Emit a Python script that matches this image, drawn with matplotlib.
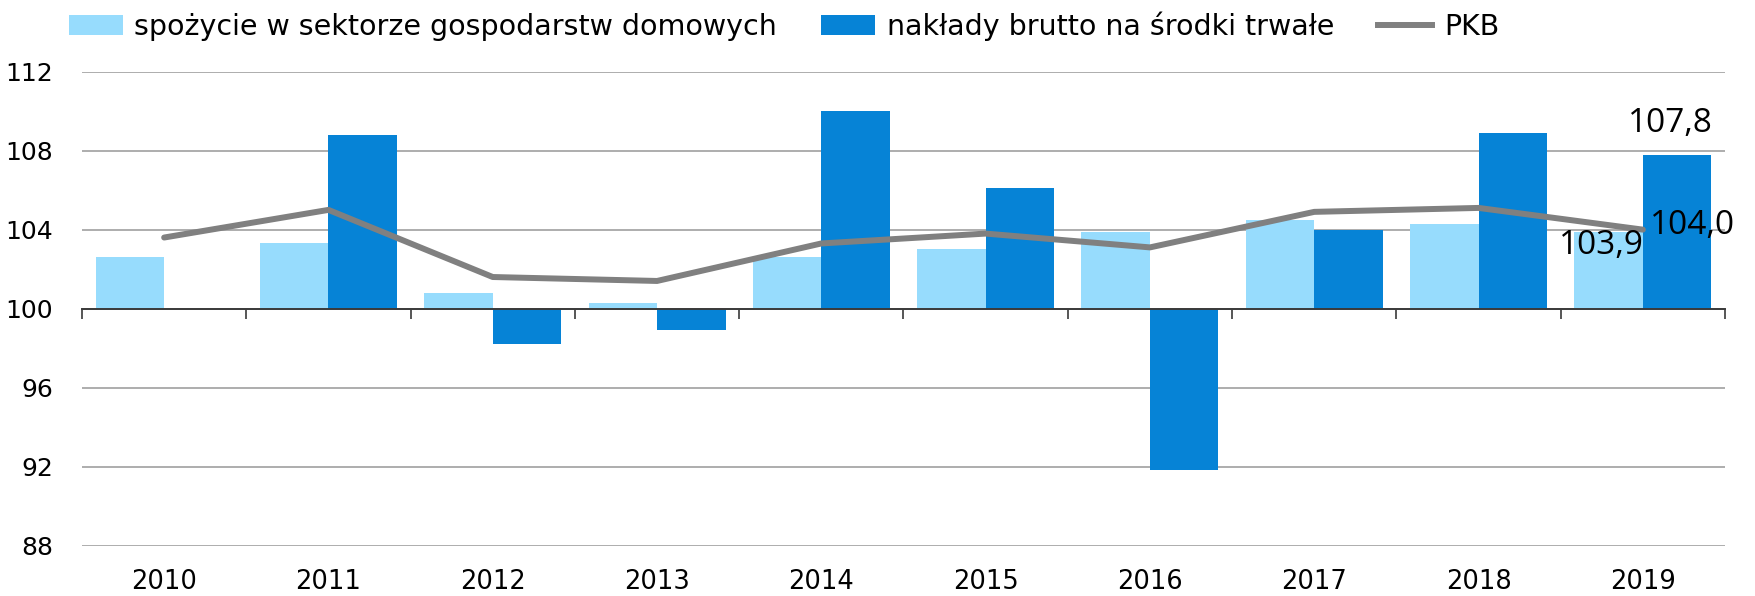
import matplotlib
matplotlib.use('Agg')
import matplotlib.pyplot as plt
import numpy as np
from matplotlib.patches import Patch
from matplotlib.lines import Line2D

years = ['2010', '2011', '2012', '2013', '2014', '2015', '2016', '2017', '2018', '2019']
consumption = [102.6, 103.3, 100.8, 100.3, 102.6, 103.0, 103.9, 104.5, 104.3, 103.9]
investment = [np.nan, 108.8, 98.2, 98.9, 110.0, 106.1, 91.8, 104.0, 108.9, 107.8]
gdp = [103.6, 105.0, 101.6, 101.4, 103.3, 103.8, 103.1, 104.9, 105.1, 104.0]
y_ticks = [88, 92, 96, 100, 104, 108, 112]
series_names = ['spożycie w sektorze gospodarstw domowych',
                'nakłady brutto na środki trwałe', 'PKB']

LIGHT = '#97DCFD'
DARK = '#0683D6'
GRAY = '#808080'
BASE = 100

label_font = ['DejaVu Sans']
value_font = ['Open Sans', 'DejaVu Sans']

W, H = 1756, 596
fig = plt.figure(figsize=(W / 100, H / 100), dpi=100)
ax = fig.add_axes([82 / W, 1 - 545.5 / H, (1725 - 82) / W, (545.5 - 71.7) / H])

x = np.arange(len(years))
w = 0.417
cons = np.array(consumption) - BASE
inv = np.array(investment) - BASE
ax.bar(x - w, cons, width=w, bottom=BASE, align='edge', color=LIGHT, linewidth=0, zorder=2)
ax.bar(x, inv, width=w, bottom=BASE, align='edge', color=DARK, linewidth=0, zorder=2)
ax.plot(x, gdp, color=GRAY, lw=4.3, solid_capstyle='round', solid_joinstyle='round', zorder=3)

ax.set_xlim(-0.5, len(years) - 0.5)
ax.set_ylim(y_ticks[0], y_ticks[-1])
for s in ['top', 'right', 'left']:
    ax.spines[s].set_visible(False)
ax.spines['bottom'].set_position(('data', BASE))
ax.spines['bottom'].set_color('#3a3a3a')
ax.spines['bottom'].set_linewidth(1.4)
ax.spines['bottom'].set_zorder(4)

ax.set_yticks(y_ticks)
ax.set_yticklabels([str(v) for v in y_ticks], family=label_font, fontsize=18)
ax.tick_params(axis='y', length=0, pad=21)
ax.yaxis.grid(True, color='#A0A0A0', lw=1.2)
ax.set_axisbelow(True)

ax.set_xticks(np.arange(len(years) + 1) - 0.5, minor=True)
ax.set_xticks([])
ax.tick_params(axis='x', which='minor', length=7, width=1.2, color='#3a3a3a', direction='out')

sec = ax.secondary_xaxis(0.0)
sec.set_xticks(x)
sec.set_xticklabels(years, family=label_font, fontsize=18.5)
sec.tick_params(length=0, pad=17)
sec.spines['bottom'].set_visible(False)

handles = [Patch(color=LIGHT, linewidth=0), Patch(color=DARK, linewidth=0),
           Line2D([], [], color=GRAY, lw=4.3)]
leg = fig.legend(handles, series_names, loc='center left', bbox_to_anchor=(0.04, 0.956),
                 ncol=3, frameon=False, borderpad=0, borderaxespad=0, handlelength=1.9,
                 handleheight=0.7, handletextpad=0.4, columnspacing=1.55,
                 prop={'family': label_font, 'size': 20.5})

ax.annotate('107,8', xy=(x[-1] + w / 2, investment[-1]), xytext=(-5, 16.5),
            textcoords='offset points', ha='center', va='baseline',
            family=value_font, fontsize=24, zorder=5)
ax.annotate('104,0', xy=(x[-1], gdp[-1]), xytext=(5, -3),
            textcoords='offset points', ha='left', va='baseline',
            family=value_font, fontsize=24, zorder=5, annotation_clip=False)
ax.annotate('103,9', xy=(x[-1] - w / 2, consumption[-1]), xytext=(-5, -16),
            textcoords='offset points', ha='center', va='baseline',
            family=value_font, fontsize=24, zorder=5)

# align legend's left edge with the reference position
fig.canvas.draw()
bb = leg.get_window_extent()
shift = (69 - bb.x0) / W
leg.set_bbox_to_anchor((0.04 + shift, 0.956), transform=fig.transFigure)

fig.savefig('out.png', dpi=100)
